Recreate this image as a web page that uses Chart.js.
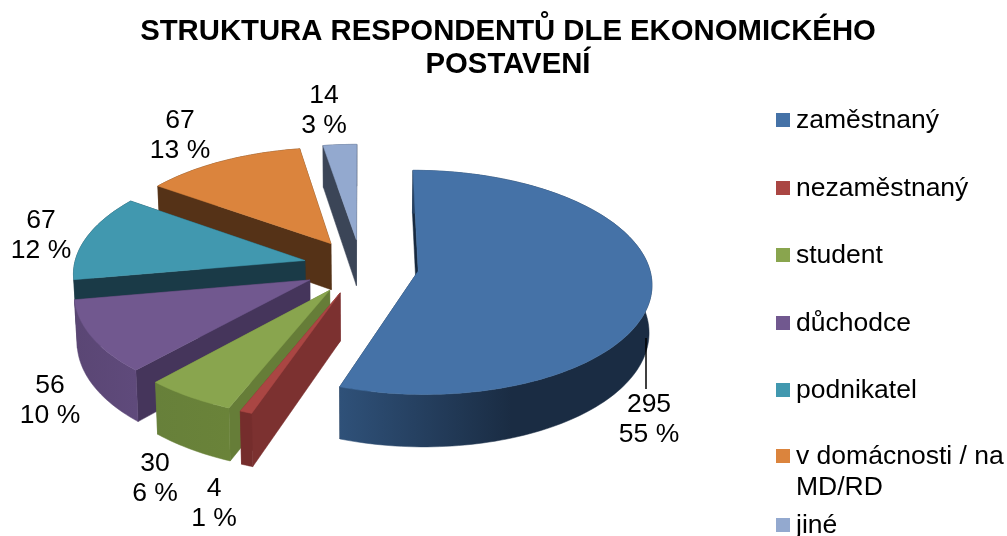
<!DOCTYPE html>
<html><head><meta charset="utf-8">
<style>html,body{margin:0;padding:0;background:#fff}#w{width:1007px;height:536px;position:relative}</style>
<script src="https://cdn.jsdelivr.net/npm/chart.js@4"></script>
</head><body><div id="w"><canvas id="c" width="1007" height="536"></canvas></div>
<script>
const categories = ['zaměstnaný','nezaměstnaný','student','důchodce','podnikatel','v domácnosti / na MD/RD','jiné'];
const values = [295,4,30,56,67,67,14];
const percents = ['55 %','1 %','6 %','10 %','12 %','13 %','3 %'];
const topColors = ['#4572A7','#AA4643','#89A54E','#71588F','#4198AF','#DB843D','#93A9CF'];
const cutColors = ['#17293F','#7C3130','#667D38','#45355B','#1A3A47','#553217','#3B4557'];
const wallLeft  = ['#2F5179','#752D2C','#67803A','#5A4674','#1A3A47','#553217','#3B4557'];
const wallRight = ['#1A2C43','#752D2C','#6A8339','#5F4A7B','#1A3A47','#553217','#3B4557'];
const legendLines = [['zaměstnaný'],['nezaměstnaný'],['student'],['důchodce'],['podnikatel'],['v domácnosti / na','MD/RD'],['jiné']];

const FONT = '"Liberation Sans", Arial, sans-serif';
// perspective projection of the pie plane
const CX=361, CY=266.5, R=231, RT=110, K=0.1, EXPLODE=0.25, DEPTH=47, SHRINK=0.99;
function projTop(u,v){const w=1/(1-K*v);return [CX+u*R*w, CY+v*RT*w];}
function projBot(u,v){const w=1/(1-K*v);return [CX+u*R*w*SHRINK, CY+v*RT*w+DEPTH*w];}
function poly(ctx,pts,fill){ctx.beginPath();pts.forEach((p,i)=>i?ctx.lineTo(p[0],p[1]):ctx.moveTo(p[0],p[1]));ctx.closePath();ctx.fillStyle=fill;ctx.fill();ctx.strokeStyle=fill;ctx.lineWidth=0.5;ctx.stroke();}

const labelPos=[[649,404],[214,488],[155,463],[50,385],[41,220],[180,120],[324,95]];
const legendY=[120,188,255,323,390,456,525];

const pie3d={id:'pie3d',
  beforeDatasetDraw(chart){
    const ctx=chart.ctx, arcs=chart.getDatasetMeta(0).data;
    [6,5,4,3,2,1,0].forEach(i=>{
      const el=arcs[i], a0=el.startAngle+Math.PI/2, a1=el.endAngle+Math.PI/2, m=(a0+a1)/2;
      const ou=EXPLODE*Math.sin(m), ov=-EXPLODE*Math.cos(m);
      const arc=[];const n=Math.max(6,Math.ceil((a1-a0)*40));
      for(let s=0;s<=n;s++){const a=a0+(a1-a0)*s/n;arc.push([ou+Math.sin(a),ov-Math.cos(a)]);}
      const aTop=arc.map(p=>projTop(p[0],p[1])), aBot=arc.map(p=>projBot(p[0],p[1]));
      const cT=projTop(ou,ov), cB=projBot(ou,ov);
      const g=ctx.createLinearGradient(Math.min(...aTop.map(p=>p[0])),0,Math.max(...aTop.map(p=>p[0])),0);
      g.addColorStop(0,wallLeft[i]);g.addColorStop(i===0?0.55:1,wallRight[i]);g.addColorStop(1,wallRight[i]);
      poly(ctx,[cT,aTop[n],aBot[n],cB],cutColors[i]);
      poly(ctx,[cT,aTop[0],aBot[0],cB],cutColors[i]);
      poly(ctx,aTop.concat(aBot.slice().reverse()),g);
      poly(ctx,[cT].concat(aTop),el.options.backgroundColor);
    });
    return false;
  },
  afterDraw(chart){
    const ctx=chart.ctx, ds=chart.data.datasets[0];
    ctx.save();
    // leader line
    ctx.strokeStyle='#000';ctx.lineWidth=1.5;ctx.beginPath();ctx.moveTo(646,338);ctx.lineTo(646,389);ctx.stroke();
    ctx.fillStyle='#000';ctx.font='26.5px '+FONT;ctx.textBaseline='middle';
    ctx.textAlign='center';
    ds.data.forEach((v,i)=>{const p=labelPos[i];ctx.fillText(String(v),p[0],p[1]+1);ctx.fillText(percents[i],p[0],p[1]+31);});
    ctx.textAlign='left';
    legendLines.forEach((ls,i)=>{
      const y=legendY[i];
      ctx.fillStyle=ds.backgroundColor[i];ctx.fillRect(776,y-7,14,14);
      ctx.fillStyle='#000';
      ls.forEach((t,j)=>ctx.fillText(t,796,y+1+j*31));
    });
    ctx.restore();
  }
};

new Chart(document.getElementById('c'),{
  type:'pie',
  data:{labels:categories,datasets:[{data:values,backgroundColor:topColors,borderWidth:0}]},
  plugins:[pie3d],
  options:{
    responsive:false,animation:false,
    layout:{padding:{left:9,top:0}},
    plugins:{
      legend:{display:false},tooltip:{enabled:false},
      title:{display:true,text:['STRUKTURA RESPONDENTŮ DLE EKONOMICKÉHO','POSTAVENÍ'],color:'#000',
        font:{family:FONT,size:29.3,weight:'bold',lineHeight:1.13},padding:{top:15,bottom:0}}
    }
  }
});
</script></body></html>
